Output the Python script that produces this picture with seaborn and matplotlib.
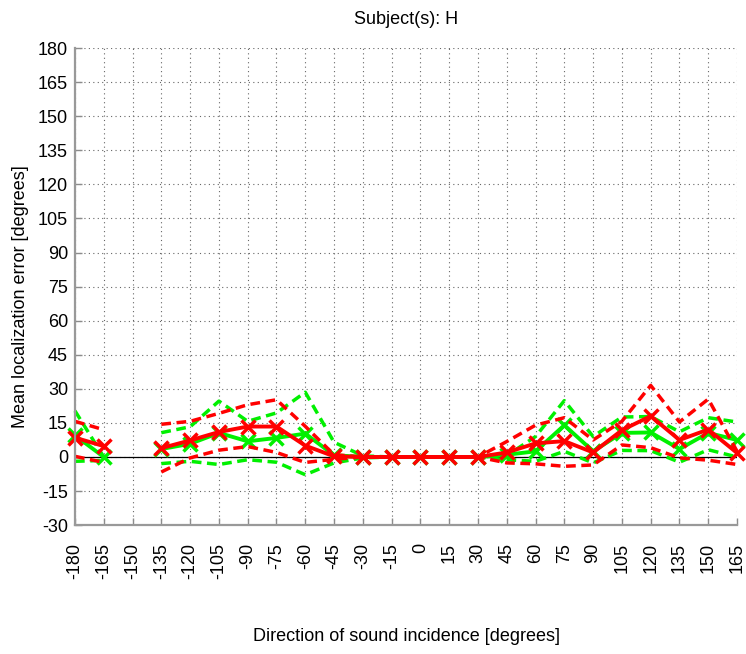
import numpy as np
import pandas as pd
import matplotlib
matplotlib.use("Agg")
import matplotlib.pyplot as plt
import seaborn as sns

# -------------------------------
# Data
# -------------------------------
nan = np.nan
directions = [-180, -165, -150, -135, -120, -105, -90, -75, -60, -45, -30, -15,
              0, 15, 30, 45, 60, 75, 90, 105, 120, 135, 150, 165]
tick_labels = [str(d) for d in directions]
y_ticks = list(range(-30, 181, 15))

green_mean = [9.5, 0.0, nan, 3.5, 5.8, 10.6, 6.9, 8.4, 10.3, 0.8, 0.0, 0.0,
              0.0, 0.0, 0.0, 1.0, 2.5, 14.0, 2.5, 10.6, 10.8, 3.5, 10.6, 7.5]
green_upper = [20.3, 0.0, nan, 10.7, 13.3, 24.6, 15.7, 19.4, 28.5, 6.5, 0.5, 0.0,
               0.0, 0.0, 0.0, 0.6, 9.0, 24.8, 9.0, 17.6, 17.8, 11.1, 17.3, 15.4]
green_lower = [-1.9, -1.5, nan, -2.9, -1.9, -3.3, -1.2, -2.3, -7.8, -2.6, -0.4, 0.0,
               0.0, 0.0, 0.0, -1.2, -1.9, 2.5, -2.6, 2.9, 2.8, -2.3, 3.2, 0.0]

red_mean = [8.5, 4.8, nan, 3.9, 7.3, 11.0, 13.4, 13.4, 5.0, 0.3, 0.0, 0.0,
            0.0, 0.0, 0.0, 2.0, 6.0, 7.0, 2.0, 11.8, 18.0, 7.5, 12.1, 1.8]
red_upper = [15.7, 12.0, nan, 14.4, 15.7, 19.2, 23.0, 25.2, 13.5, 1.0, 0.0, 0.0,
             0.0, 0.0, 0.0, 6.8, 14.0, 17.3, 7.5, 15.7, 31.5, 15.4, 25.5, 2.5]
red_lower = [0.3, -2.4, nan, -6.6, -0.4, 3.0, 4.6, 2.0, -2.4, -1.0, 0.0, 0.0,
             0.0, 0.0, 0.0, -2.6, -3.0, -4.1, -3.5, 5.3, 4.1, -0.4, -1.4, -3.3]


def to_frame(values):
    # split the series where a value is missing so the gap stays a gap
    df = pd.DataFrame({'direction': directions, 'error': values})
    df['segment'] = df['error'].isna().cumsum()
    return df.dropna()


sns.set_style("white")
plt.rcParams['font.family'] = ['Liberation Sans', 'DejaVu Sans']
plt.rcParams['text.color'] = 'black'
plt.rcParams['axes.unicode_minus'] = False

fig, ax = plt.subplots(figsize=(7.46, 6.54), dpi=100)
fig.subplots_adjust(left=0.1005, right=0.988, bottom=0.197, top=0.9266)

ax.axhline(0, color='black', lw=0.9, zorder=1)

dash = (0, (2.8, 1.6))
green = '#00f000'
red = '#ff0000'
series = [
    (green_upper, green, 'band'),
    (green_lower, green, 'band'),
    (green_mean, green, 'mean'),
    (red_upper, red, 'band'),
    (red_lower, red, 'band'),
    (red_mean, red, 'mean'),
]
for values, color, kind in series:
    df = to_frame(values)
    if kind == 'band':
        sns.lineplot(data=df, x='direction', y='error', units='segment',
                     estimator=None, color=color, lw=2.5, linestyle=dash,
                     clip_on=False, ax=ax)
    else:
        sns.lineplot(data=df, x='direction', y='error', units='segment',
                     estimator=None, color=color, lw=2.8, linestyle='-',
                     marker='x', markersize=10.5, markeredgewidth=2.5,
                     markeredgecolor=color, clip_on=False, ax=ax)

ax.set_xlim(-180, 165)
ax.set_ylim(-30, 180)
ax.set_xticks(directions)
ax.set_xticklabels(tick_labels, rotation=90)
ax.set_yticks(y_ticks)

ax.set_axisbelow(True)
ax.grid(True, linestyle=(0, (1, 3)), color='0.4', lw=0.8)

for side in ['top', 'right']:
    ax.spines[side].set_visible(False)
for side in ['left', 'bottom']:
    ax.spines[side].set_color('0.6')
    ax.spines[side].set_linewidth(1.6)

ax.tick_params(axis='both', direction='in', bottom=True, left=True,
               color='0.55', length=5, width=1, labelsize=13,
               labelcolor='black')
ax.tick_params(axis='x', pad=13)
ax.tick_params(axis='y', pad=5)

ax.set_title('Subject(s): H', fontsize=13, pad=17, color='black')
ax.set_xlabel('Direction of sound incidence [degrees]', fontsize=13, color='black')
ax.set_ylabel('Mean localization error [degrees]', fontsize=13, color='black')
ax.xaxis.set_label_coords(0.5, -0.216)
ax.yaxis.set_label_coords(-0.07, 0.48)

plt.savefig("out.png", dpi=100)
